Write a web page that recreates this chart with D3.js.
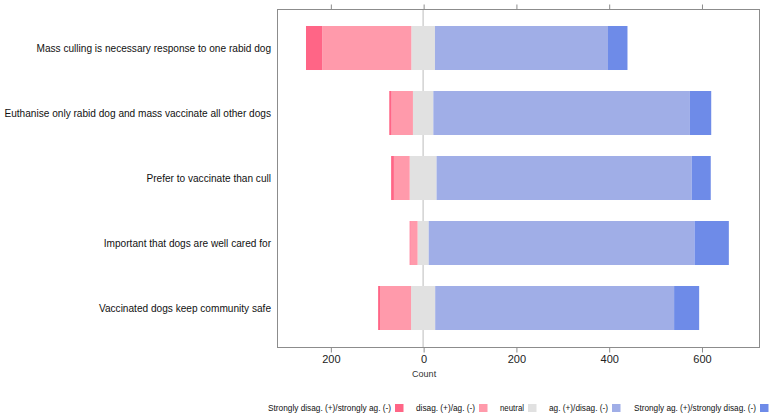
<!DOCTYPE html>
<html>
<head>
<meta charset="utf-8">
<script src="https://cdn.jsdelivr.net/npm/d3@7"></script>
<style>
  html, body { margin: 0; padding: 0; background: #fff; }
  svg { display: block; font-family: "Liberation Sans", Arial, sans-serif; }
</style>
</head>
<body>
<svg id="chart" width="774" height="419"></svg>
<script>
// ---- data ----
const statements = [
  "Mass culling is necessary response to one rabid dog",
  "Euthanise only rabid dog and mass vaccinate all other dogs",
  "Prefer to vaccinate than cull",
  "Important that dogs are well cared for",
  "Vaccinated dogs keep community safe"
];
const responseLevels = [
  "Strongly disag. (+)/strongly ag. (-)",
  "disag. (+)/ag. (-)",
  "neutral",
  "ag. (+)/disag. (-)",
  "Strongly ag. (+)/strongly disag. (-)"
];
const stronglyDisagree = [35, 5, 6, 2, 4];
const disagree = [192, 46, 34, 15, 67];
const neutral = [51, 44, 58, 24, 52];
const agree = [373, 553, 550, 573, 515];
const stronglyAgree = [42, 46, 41, 74, 54];
const xTicks = [-200, 0, 200, 400, 600];
const levelColors = ["#FF6586", "#FF9AAB", "#E1E1E1", "#A0AEE7", "#6E8BE8"];

// ---- layout ----
const svg = d3.select("#chart");
const plot = { left: 277, right: 759, top: 9, bottom: 347 };

const x = d3.scaleLinear().domain([-315, 724]).range([plot.left, plot.right]);
const y = d3.scaleBand().domain(statements).range([15.5, 340.5])
  .paddingInner(0.323).paddingOuter(0.1615);

// build segments: neutral centered on zero
const rows = statements.map((s, i) => {
  const segs = [];
  const nh = neutral[i] / 2;
  segs.push({ s, level: 2, x0: -nh, x1: nh });
  let l = -nh;
  segs.push({ s, level: 1, x0: l - disagree[i], x1: l });
  l -= disagree[i];
  segs.push({ s, level: 0, x0: l - stronglyDisagree[i], x1: l });
  let r = nh;
  segs.push({ s, level: 3, x0: r, x1: r + agree[i] });
  r += agree[i];
  segs.push({ s, level: 4, x0: r, x1: r + stronglyAgree[i] });
  return segs;
});

// zero reference line (behind bars)
svg.append("line")
  .attr("x1", x(0)).attr("x2", x(0))
  .attr("y1", plot.top).attr("y2", plot.bottom)
  .attr("stroke", "#D2D2D2").attr("stroke-width", 1.5);

// bars
svg.append("g").selectAll("rect")
  .data(rows.flat())
  .join("rect")
  .attr("x", d => x(d.x0))
  .attr("width", d => Math.max(0, x(d.x1) - x(d.x0)))
  .attr("y", d => y(d.s))
  .attr("height", y.bandwidth())
  .attr("fill", d => levelColors[d.level]);

// frame
svg.append("rect")
  .attr("x", plot.left + 0.5).attr("y", plot.top + 0.5)
  .attr("width", plot.right - plot.left).attr("height", plot.bottom - plot.top)
  .attr("fill", "none").attr("stroke", "#8C8C8C").attr("stroke-width", 1);

// bottom axis
const xAxisB = d3.axisBottom(x).tickValues(xTicks)
  .tickFormat(d => Math.abs(d)).tickSize(5).tickSizeOuter(0).tickPadding(3);
const gB = svg.append("g").attr("transform", `translate(0.5,${plot.bottom + 0.5})`).call(xAxisB);
gB.select(".domain").remove();
gB.selectAll(".tick line").attr("stroke", "#8C8C8C");
gB.selectAll(".tick text").attr("font-size", 11).attr("fill", "#222")
  .attr("font-family", "Liberation Sans, Arial, sans-serif");

// top axis ticks (no labels)
const xAxisT = d3.axisTop(x).tickValues(xTicks).tickFormat("").tickSize(5).tickSizeOuter(0);
const gT = svg.append("g").attr("transform", `translate(0.5,${plot.top + 0.5})`).call(xAxisT);
gT.select(".domain").remove();
gT.selectAll(".tick line").attr("stroke", "#8C8C8C");

// axis title
svg.append("text")
  .attr("x", x(0) + 1).attr("y", 377)
  .attr("text-anchor", "middle")
  .attr("font-size", 9).attr("fill", "#333")
  .text("Count");

// category labels
svg.append("g").selectAll("text")
  .data(statements)
  .join("text")
  .attr("x", 271)
  .attr("y", d => y(d) + y.bandwidth() / 2)
  .attr("dy", "0.35em")
  .attr("text-anchor", "end")
  .attr("font-size", 10.1)
  .attr("fill", "#111")
  .text(d => d);

// legend
const legendStarts = [268, 416, 500, 549, 634];
const legendSwatchX = [395, 479, 528, 612, 760];
const lg = svg.append("g");
responseLevels.forEach((lab, i) => {
  lg.append("text")
    .attr("x", legendStarts[i]).attr("y", 408).attr("dy", "0.35em")
    .attr("font-size", 9.5).attr("fill", "#111")
    .attr("textLength", legendSwatchX[i] - legendStarts[i] - 4)
    .attr("lengthAdjust", "spacingAndGlyphs")
    .text(lab);
  lg.append("rect")
    .attr("x", legendSwatchX[i]).attr("y", 404)
    .attr("width", 8.5).attr("height", 8)
    .attr("fill", levelColors[i]);
});
</script>
</body>
</html>
